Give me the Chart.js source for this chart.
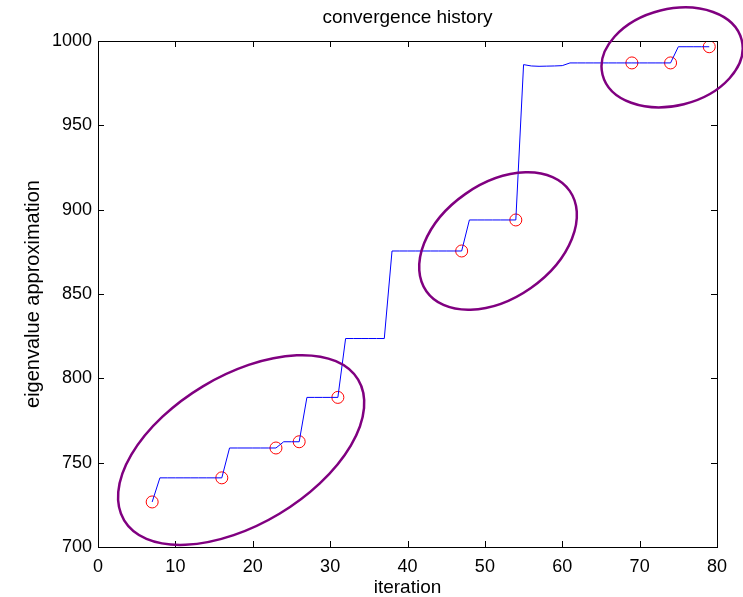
<!DOCTYPE html>
<html>
<head>
<meta charset="utf-8">
<script src="https://cdn.jsdelivr.net/npm/chart.js@4"></script>
<style>
  body { margin: 0; background: #fff; }
  #wrap { width: 743px; height: 597px; }
</style>
</head>
<body>
<div id="wrap"><canvas id="convChart" width="743" height="597"></canvas></div>
<script>
// iteration numbers and the eigenvalue estimate at each one
var iterations = [7, 8, 9, 10, 11, 12, 13, 14, 15, 16,
                  17, 18, 19, 20, 21, 22, 23, 24, 25, 26,
                  27, 28, 29, 30, 31, 32, 33, 34, 35, 36,
                  37, 38, 39, 40, 41, 42, 43, 44, 45, 46,
                  47, 48, 49, 50, 51, 52, 53, 54, 55, 56,
                  57, 58, 59, 60, 61, 62, 63, 64, 65, 66,
                  67, 68, 69, 70, 71, 72, 73, 74, 75, 76,
                  77, 78, 79];
var eigenValues = [726.7, 741.0, 741.0, 741.0, 741.0, 741.0, 741.0, 741.0, 741.0, 741.0,
                   758.7, 758.7, 758.7, 758.7, 758.7, 758.7, 758.7, 762.4, 762.4, 762.4,
                   788.7, 788.7, 788.7, 788.7, 788.7, 823.6, 823.6, 823.6, 823.6, 823.6,
                   823.6, 875.5, 875.5, 875.5, 875.5, 875.5, 875.5, 875.5, 875.5, 875.5,
                   875.5, 893.9, 893.9, 893.9, 893.9, 893.9, 893.9, 893.9, 986.0, 985.2,
                   985.0, 985.1, 985.2, 985.4, 987.0, 987.0, 987.0, 987.0, 987.0, 987.0,
                   987.0, 987.0, 987.0, 987.0, 987.0, 987.0, 987.0, 987.0, 996.6, 996.6,
                   996.6, 996.6, 996.6];

// iterations marked with a red circle
var markedIters = [7, 16, 23, 26, 31, 47, 54, 69, 74, 79];

var xTicks = [0, 10, 20, 30, 40, 50, 60, 70, 80];
var yTicks = [700, 750, 800, 850, 900, 950, 1000];

// highlighted groups: centre in data units, radii (px) and tilt (deg)
var groupCentreX = [18.5, 51.7, 74.2];
var groupCentreY = [757.5, 881.4, 990.3];
var groupRadiusA = [136.5, 87.5, 71.7];
var groupRadiusB = [74.3, 57.3, 48.3];
var groupTilt = [-31, -35, -14];

var chartTitle = 'convergence history';

var linePts = iterations.map(function(it, i) { return {x: it, y: eigenValues[i]}; });
var markPts = markedIters.map(function(it) {
    return {x: it, y: eigenValues[iterations.indexOf(it)]};
});

var framePlugin = {
    id: 'frame',
    afterDraw: function(chart) {
        var ctx = chart.ctx;
        var a = chart.chartArea;
        var xs = chart.scales.x, ys = chart.scales.y;
        var tl = 6;
        ctx.save();
        ctx.strokeStyle = '#000';
        ctx.lineWidth = 1;
        ctx.strokeRect(Math.round(a.left) + 0.5, Math.round(a.top) + 0.5,
                       Math.round(a.right - a.left), Math.round(a.bottom - a.top));
        ctx.beginPath();
        xTicks.forEach(function(v) {
            var px = Math.round(xs.getPixelForValue(v)) + 0.5;
            ctx.moveTo(px, a.bottom); ctx.lineTo(px, a.bottom - tl);
            ctx.moveTo(px, a.top); ctx.lineTo(px, a.top + tl);
        });
        yTicks.forEach(function(v) {
            var py = Math.round(ys.getPixelForValue(v)) + 0.5;
            ctx.moveTo(a.left, py); ctx.lineTo(a.left + tl, py);
            ctx.moveTo(a.right, py); ctx.lineTo(a.right - tl, py);
        });
        ctx.stroke();

        // title centred over the plot box
        ctx.fillStyle = '#000';
        ctx.font = '19px "Liberation Sans"';
        ctx.textAlign = 'center';
        ctx.textBaseline = 'middle';
        ctx.fillText(chartTitle, (a.left + a.right) / 2, 18);

        // purple ellipses around the groups
        ctx.strokeStyle = '#800080';
        ctx.lineWidth = 2.5;
        for (var i = 0; i < groupCentreX.length; i++) {
            ctx.beginPath();
            ctx.ellipse(xs.getPixelForValue(groupCentreX[i]), ys.getPixelForValue(groupCentreY[i]),
                        groupRadiusA[i], groupRadiusB[i], groupTilt[i] * Math.PI / 180, 0, 2 * Math.PI);
            ctx.stroke();
        }
        ctx.restore();
    }
};

var ctx = document.getElementById('convChart').getContext('2d');
var convChart = new Chart(ctx, {
    type: 'line',
    data: {
        datasets: [{
            data: linePts,
            borderColor: '#0000ff',
            borderWidth: 1,
            pointRadius: 0,
            tension: 0,
            fill: false
        }, {
            data: markPts,
            showLine: false,
            pointStyle: 'circle',
            pointRadius: 6,
            pointBorderColor: '#ff0000',
            pointBackgroundColor: 'rgba(0,0,0,0)',
            pointBorderWidth: 1
        }]
    },
    options: {
        responsive: false,
        animation: false,
        devicePixelRatio: 1,
        layout: { padding: { left: 0, right: 26, top: 41, bottom: 0 } },
        plugins: {
            legend: { display: false },
            tooltip: { enabled: false },
            title: { display: false }
        },
        scales: {
            x: {
                type: 'linear',
                min: 0,
                max: 80,
                grid: { display: false, drawTicks: false },
                border: { display: false },
                afterFit: function(s) { s.height = 50; },
                afterBuildTicks: function(s) { s.ticks = xTicks.map(function(v) { return {value: v}; }); },
                ticks: {
                    color: '#000',
                    padding: 9,
                    font: { family: 'Liberation Sans', size: 18 },
                    callback: function(v) { return String(v); }
                },
                title: {
                    display: true,
                    text: 'iteration',
                    color: '#000',
                    font: { family: 'Liberation Sans', size: 19, lineHeight: 1 },
                    padding: { top: 0, bottom: 0 }
                }
            },
            y: {
                min: 700,
                max: 1000,
                grid: { display: false, drawTicks: false },
                border: { display: false },
                afterFit: function(s) { s.width = 98; },
                afterBuildTicks: function(s) { s.ticks = yTicks.map(function(v) { return {value: v}; }); },
                ticks: {
                    color: '#000',
                    padding: 6,
                    font: { family: 'Liberation Sans', size: 18 },
                    callback: function(v) { return String(v); }
                },
                title: {
                    display: true,
                    text: 'eigenvalue approximation',
                    color: '#000',
                    font: { family: 'Liberation Sans', size: 20, lineHeight: 1 },
                    padding: { top: 23, bottom: 0 }
                }
            }
        }
    },
    plugins: [framePlugin]
});
</script>
</body>
</html>
